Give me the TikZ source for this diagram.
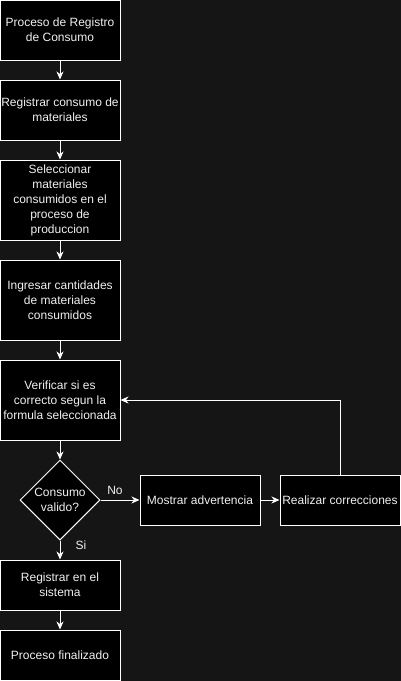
\documentclass[tikz,border=0pt]{standalone}
\usepackage{fontspec}
\setmainfont{Liberation Sans}
\usetikzlibrary{shapes.geometric,arrows.meta}
\definecolor{bgc}{HTML}{151515}
\definecolor{txt}{HTML}{F0F0F0}
\begin{document}
\begin{tikzpicture}[x=1pt,y=-1pt,
  font=\fontsize{12}{15}\selectfont,
  box/.style={draw=white,fill=black,text=txt,line width=1pt,inner sep=0pt,minimum width=120pt,align=center},
  dia/.style={diamond,draw=white,fill=black,text=txt,line width=1pt,inner sep=0pt,minimum width=80pt,minimum height=80pt,align=center},
  arr/.style={draw=white,line width=1pt,-{Stealth[length=8pt,width=7pt,inset=2.5pt]}},
  lbl/.style={text=txt,inner sep=0pt}]
\fill[bgc] (0,0) rectangle (401,681);
\useasboundingbox (0,0) rectangle (401,681);
\node[box,minimum height=60pt] (b1) at (60,30) {Proceso de Registro\\de Consumo};
\node[box,minimum height=60pt] (b2) at (60,110) {Registrar consumo de\\materiales};
\node[box,minimum height=80pt] (b3) at (60,200) {Seleccionar\\materiales\\consumidos en el\\proceso de\\produccion};
\node[box,minimum height=80pt] (b4) at (60,300) {Ingresar cantidades\\de materiales\\consumidos};
\node[box,minimum height=80pt] (b5) at (60,400) {Verificar si es\\correcto segun la\\formula seleccionada};
\node[dia] (d) at (60,500) {Consumo\\valido?};
\node[box,minimum height=50pt] (m) at (200,500) {Mostrar advertencia};
\node[box,minimum height=50pt] (r) at (340,500) {Realizar correcciones};
\node[box,minimum height=50pt] (s) at (60,585) {Registrar en el\\sistema};
\node[box,minimum height=50pt] (f) at (60,655) {Proceso finalizado};
\draw[arr] (b1) -- (b2);
\draw[arr] (b2) -- (b3);
\draw[arr] (b3) -- (b4);
\draw[arr] (b4) -- (b5);
\draw[arr] (b5) -- (d);
\draw[arr] (d.east) -- (m.west);
\draw[arr] (m) -- (r);
\draw[arr] (r.north) |- (b5.east);
\draw[arr] (d.south) -- (s.north);
\draw[arr] (s) -- (f);
\node[lbl] (no) at (115,490) {No};
\node[lbl] (si) at (81,545) {Si};
\end{tikzpicture}
\end{document}
